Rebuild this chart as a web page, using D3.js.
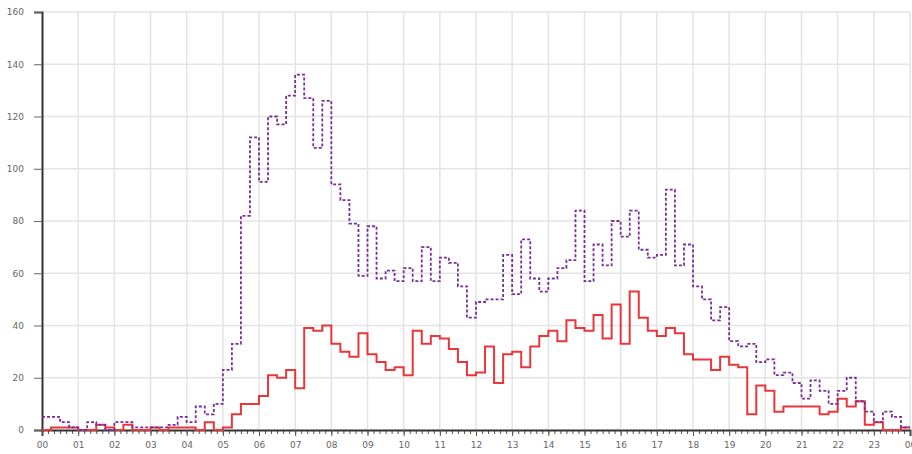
<!DOCTYPE html>
<html>
  <head>
    <title>Quarter-hour counts</title>
    <script src="https://d3js.org/d3.v7.min.js"></script>
    <style>
      body { margin: 0; background: #fff; }
      .tick text {
        font-family: "DejaVu Sans", sans-serif;
        font-size: 9px;
        fill: #666;
      }
      .grid line { stroke: #e4e4e4; stroke-width: 1.5; }
    </style>
  </head>
  <body>
    <svg width="912" height="454"></svg>

    <script>
      // counts per 15-minute slot, 00:00 .. 23:45
      const purpleValues = [
        5, 5, 3, 1, 0, 3, 2, 0, 3, 3, 1, 1, 1, 1, 2, 5, 3, 9, 6, 10,
        23, 33, 82, 112, 95, 120, 117, 128, 136, 127, 108, 126, 94, 88, 79, 59, 78, 58, 61, 57, 62, 57, 70, 57, 66,
        64, 55, 43, 49, 50, 50, 67, 52, 73, 58, 53, 58, 62, 65, 84, 57, 71, 63, 80, 74, 84, 69, 66, 67, 92, 63,
        71, 55, 50, 42, 47, 34, 32, 33, 26, 27, 21, 22, 18, 12, 19, 15, 10, 15, 20, 11, 7, 3, 7, 5, 1
      ];
      const redValues = [
        0, 1, 1, 1, 0, 0, 2, 1, 0, 2, 0, 0, 1, 0, 1, 1, 1, 0, 3, 0,
        1, 6, 10, 10, 13, 21, 20, 23, 16, 39, 38, 40, 33, 30, 28, 37, 29, 26, 23, 24, 21, 38, 33, 36, 35,
        31, 26, 21, 22, 32, 18, 29, 30, 24, 32, 36, 38, 34, 42, 39, 38, 44, 35, 48, 33, 53, 43, 38, 36, 39, 37,
        29, 27, 27, 23, 28, 25, 24, 6, 17, 15, 7, 9, 9, 9, 9, 6, 7, 12, 9, 11, 2, 3, 0, 0, 1
      ];
      const hourLabels = ["00", "01", "02", "03", "04", "05", "06", "07", "08", "09", "10", "11",
        "12", "13", "14", "15", "16", "17", "18", "19", "20", "21", "22", "23", "00"];
      const yTicks = [0, 20, 40, 60, 80, 100, 120, 140, 160];

      function main(){
        const svg = d3.select("svg");
        const x = d3.scaleLinear().domain([0, 24]).range([42, 910]);
        const y = d3.scaleLinear().domain([0, 160]).range([430, 12]);

        // grid
        const grid = svg.append("g").attr("class", "grid");
        grid.selectAll(".v").data(d3.range(1, 25)).enter().append("line")
            .attr("x1", d => x(d)).attr("x2", d => x(d))
            .attr("y1", y(160)).attr("y2", y(0));
        grid.selectAll(".h").data(yTicks.slice(1)).enter().append("line")
            .attr("x1", x(0)).attr("x2", x(24))
            .attr("y1", d => y(d)).attr("y2", d => y(d));

        // y axis
        const yAxis = svg.append("g")
            .attr("transform", `translate(${x(0)},0)`)
            .call(d3.axisLeft(y).tickValues(yTicks).tickSize(8).tickPadding(10));
        yAxis.select(".domain").attr("stroke", "#333").attr("stroke-width", 2);
        yAxis.selectAll(".tick line").attr("stroke", "#666");

        // x axis: minor ticks every 10 min
        const xMinor = svg.append("g")
            .attr("transform", `translate(0,${y(0)})`)
            .call(d3.axisBottom(x).tickValues(d3.range(0, 24 + 1e-9, 1 / 6)).tickSize(4).tickFormat(""));
        xMinor.select(".domain").remove();
        xMinor.selectAll(".tick line").attr("stroke", "#555");

        const xAxis = svg.append("g")
            .attr("transform", `translate(0,${y(0)})`)
            .call(d3.axisBottom(x).tickValues(d3.range(0, 25)).tickSize(6).tickPadding(6)
              .tickFormat(d => hourLabels[d]));
        xAxis.select(".domain").attr("stroke", "#333").attr("stroke-width", 2);
        xAxis.selectAll(".tick line").attr("stroke", "#555");

        const line = d3.line()
            .x(d => x(d.t))
            .y(d => y(d.v))
            .curve(d3.curveStepAfter);

        function toPoints(values){
          const pts = values.map((v, i) => ({ t: i / 4, v }));
          pts.push({ t: 24, v: values[values.length - 1] });
          return pts;
        }

        svg.append("path")
            .datum(toPoints(redValues))
            .attr("fill", "none")
            .attr("stroke", "#e8363b")
            .attr("stroke-width", 2)
            .attr("d", line);

        svg.append("path")
            .datum(toPoints(purpleValues))
            .attr("fill", "none")
            .attr("stroke", "#7a2e9a")
            .attr("stroke-width", 1.8)
            .attr("stroke-dasharray", "3,2")
            .attr("d", line);
      }
      main();
    </script>
  </body>
</html>
